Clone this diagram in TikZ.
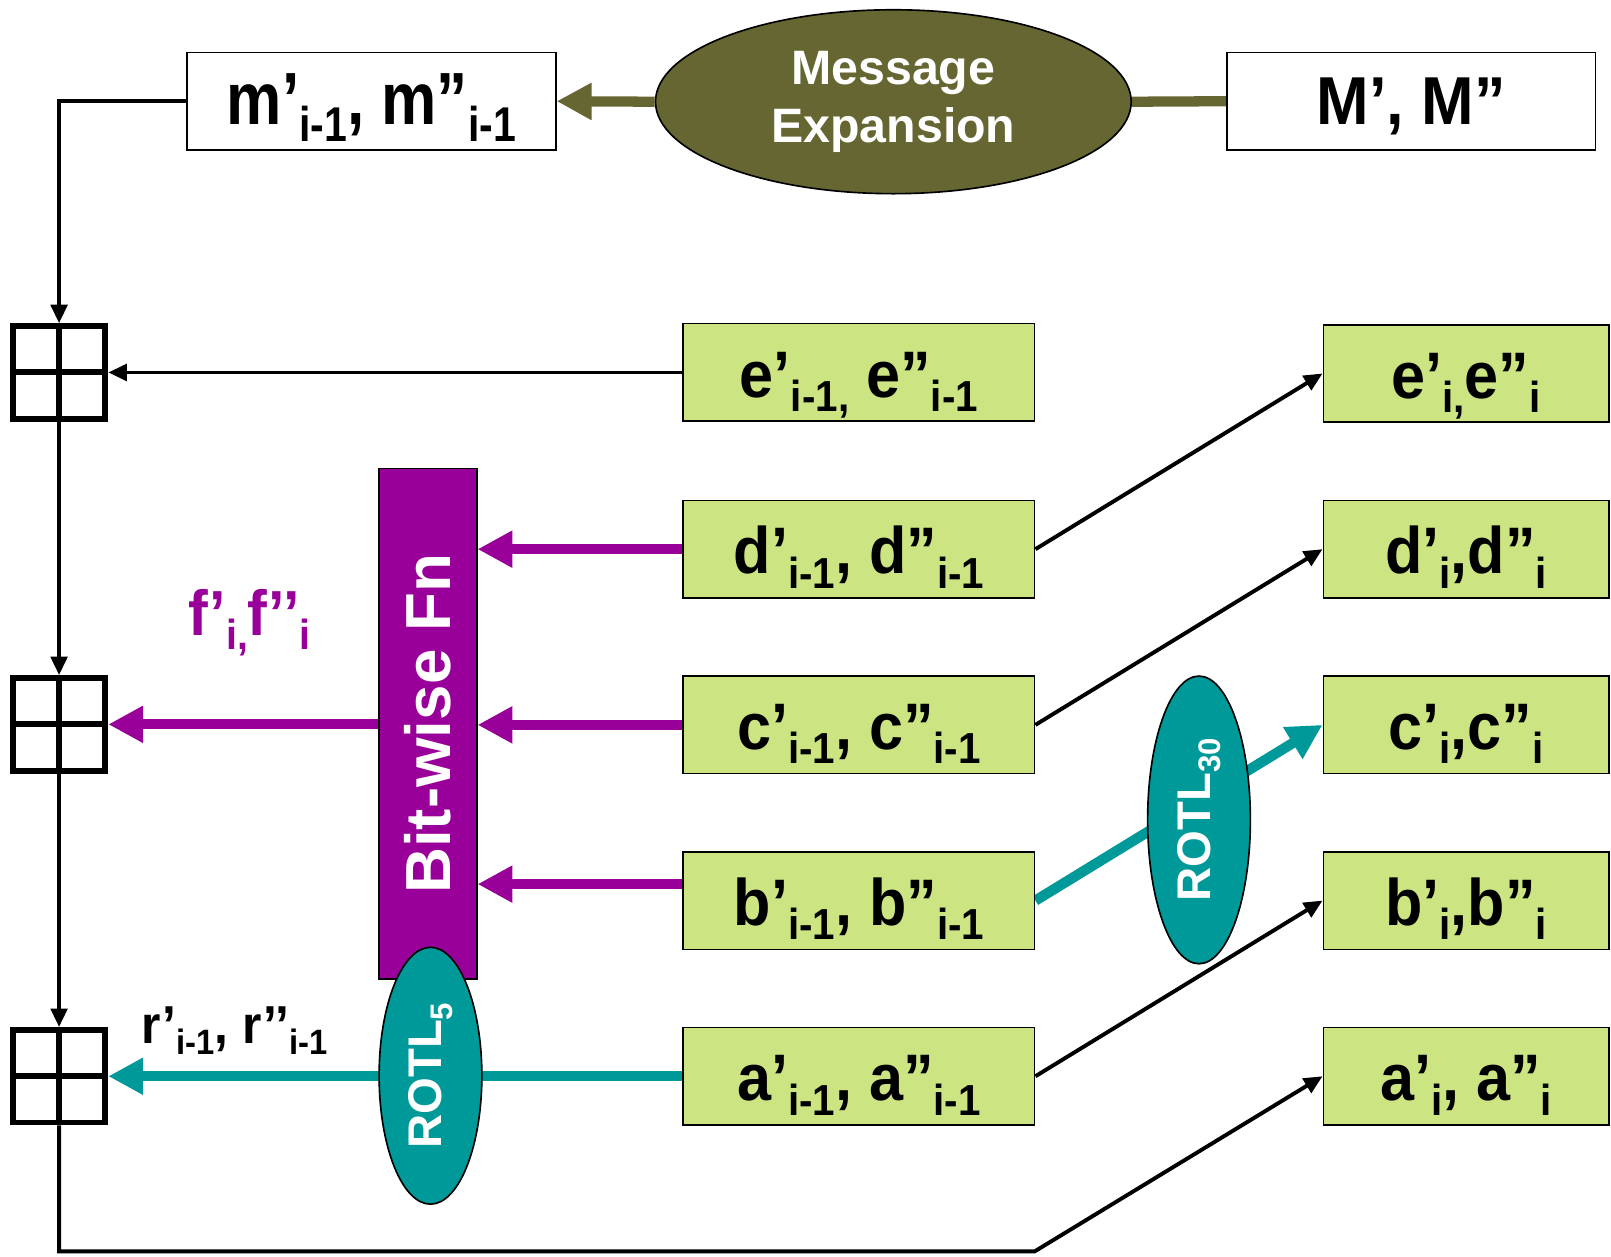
\documentclass[tikz,border=0pt]{standalone}
\usepackage{fontspec}
\usepackage{graphicx}
\setmainfont{Liberation Sans}
\newfontfamily\regfont{Liberation Sans}[FakeStretch=0.93]
\newfontfamily\msgfont{Liberation Sans}[FakeStretch=0.84]
\usetikzlibrary{shapes.geometric,arrows.meta,backgrounds}

\definecolor{boxgreen}{RGB}{205,228,130}
\definecolor{olive}{RGB}{102,102,51}
\definecolor{fnpurple}{RGB}{153,0,153}
\definecolor{rotteal}{RGB}{0,153,153}

% lowered, smaller index text
\newcommand\dn[1]{\raisebox{-0.22em}{\scalebox{0.66}{#1}}}

\tikzset{
  x=0.5pt, y=-0.5pt,
  plainbox/.style={draw=black, line width=0.8pt, fill=white, inner sep=0pt,
    minimum width=179.5pt, minimum height=47.5pt, text height=25pt, text depth=2pt},
  regbox/.style={draw=black, line width=0.8pt, fill=boxgreen, inner sep=0pt,
    minimum height=47.5pt, text height=26pt, text depth=2pt,
    font=\regfont\bfseries\fontsize{32}{32}\selectfont},
  oldreg/.style={regbox, minimum width=171pt},
  newreg/.style={regbox, minimum width=139pt},
  adder/.style={draw=black, line width=2.9pt, inner sep=0pt, minimum size=45pt},
  blk/.style={draw=black, line width=1.9pt, -{Triangle[length=9pt,width=8pt]}},
  fat/.style={line width=5pt, -{Triangle[length=17pt,width=17pt]}},
  oval/.style={ellipse, draw=black, line width=0.8pt, inner sep=0pt, text=white,
    font=\bfseries},
}

\begin{document}
\begin{tikzpicture}
\path[use as bounding box] (0,0) rectangle (1568,1223);

% message side
\node[plainbox, font=\msgfont\bfseries\fontsize{36}{36}\selectfont]
      (m) at (361.5,98.5) {m’\dn{i-1}, m”\dn{i-1}};
\node[plainbox, font=\regfont\bfseries\fontsize{33}{33}\selectfont]
      (M) at (1373.5,98.5) {M’, M”};
\node[oval, fill=olive, minimum width=231.5pt, minimum height=89.5pt,
      align=center, font=\bfseries\fontsize{23.5}{28.5}\selectfont]
      (exp) at (869.5,99) {Message\\Expansion};

% modular adders
\foreach \n/\yy in {s1/362.5, s2/705, s3/1047.5} {
  \node[adder] (\n) at (57.5,\yy) {};
  \draw[line width=2.9pt] (\n.north) -- (\n.south) (\n.west) -- (\n.east);
}

% registers before the step
\node[oldreg] (e) at (836,362.5) {e’\dn{i-1,} e”\dn{i-1}};
\node[oldreg] (d) at (836,534.5) {d’\dn{i-1}, d”\dn{i-1}};
\node[oldreg] (c) at (836,705.5) {c’\dn{i-1}, c”\dn{i-1}};
\node[oldreg] (b) at (836,876.5) {b’\dn{i-1}, b”\dn{i-1}};
\node[oldreg] (a) at (836,1047.5) {a’\dn{i-1}, a”\dn{i-1}};

% registers after the step
\node[newreg] (ei) at (1427,363.5) {e’\dn{i,}e”\dn{i}};
\node[newreg] (di) at (1427,534.5) {d’\dn{i},d”\dn{i}};
\node[newreg] (ci) at (1427,705.5) {c’\dn{i},c”\dn{i}};
\node[newreg] (bi) at (1427,876.5) {b’\dn{i},b”\dn{i}};
\node[newreg] (ai) at (1427,1047.5) {a’\dn{i}, a”\dn{i}};

% boolean function block and rotations
\node[draw=black, line width=0.8pt, fill=fnpurple, inner sep=0pt,
      minimum width=47.5pt, minimum height=248.5pt, text=white,
      font=\bfseries\fontsize{31}{31}\selectfont]
      (bw) at (416.5,704.5) {\rotatebox{90}{Bit-wise Fn}};
\node[oval, fill=rotteal, minimum width=50pt, minimum height=125pt,
      font=\bfseries\fontsize{23}{23}\selectfont]
      (r5) at (419,1047) {\rotatebox{90}{ROTL\dn{5}}};
\node[oval, fill=rotteal, minimum width=50pt, minimum height=140pt,
      font=\bfseries\fontsize{23}{23}\selectfont]
      (r30) at (1167,798) {\rotatebox{90}{ROTL\dn{30}}};

% labels on the adder inputs
\node[text=fnpurple, font=\regfont\bfseries\fontsize{31}{31}\selectfont]
      (flab) at (243,606) {f’\dn{i,}f’’\dn{i}};
\node[font=\regfont\bfseries\fontsize{26}{26}\selectfont]
      (rlab) at (228,1003) {r’\dn{i-1}, r’’\dn{i-1}};

\begin{scope}[on background layer]
  % message expansion links
  \draw[fat, olive] (exp.west) -- (m.east);
  \draw[line width=5pt, olive] (exp.east) -- (M.west);

  % chain of adders
  \draw[blk] (m.west) -| (s1.north);
  \draw[blk] (s1.south) -- (s2.north);
  \draw[blk] (s2.south) -- (s3.north);
  \coordinate (turn) at (1007,1218);
  \draw[blk, line join=miter] (s3.south) |- (turn) -- (ai.west);

  % register inputs
  \draw[blk] (e.west) -- (s1.east);
  \draw[fat, fnpurple] (d.west) -- (d.west -| bw.east);
  \draw[fat, fnpurple] (c.west) -- (c.west -| bw.east);
  \draw[fat, fnpurple] ([yshift=8pt]b.west) -- ([yshift=8pt]b.west -| bw.east);
  \draw[fat, fnpurple] (bw.west |- s2.east) -- (s2.east);
  \draw[fat, rotteal] (a.west) -- (s3.east);

  % register shift
  \draw[blk] (d.east) -- (ei.west);
  \draw[blk] (c.east) -- (di.west);
  \draw[fat, rotteal] (b.east) -- (ci.west);
  \draw[blk] (a.east) -- (bi.west);
\end{scope}
\end{tikzpicture}
\end{document}
